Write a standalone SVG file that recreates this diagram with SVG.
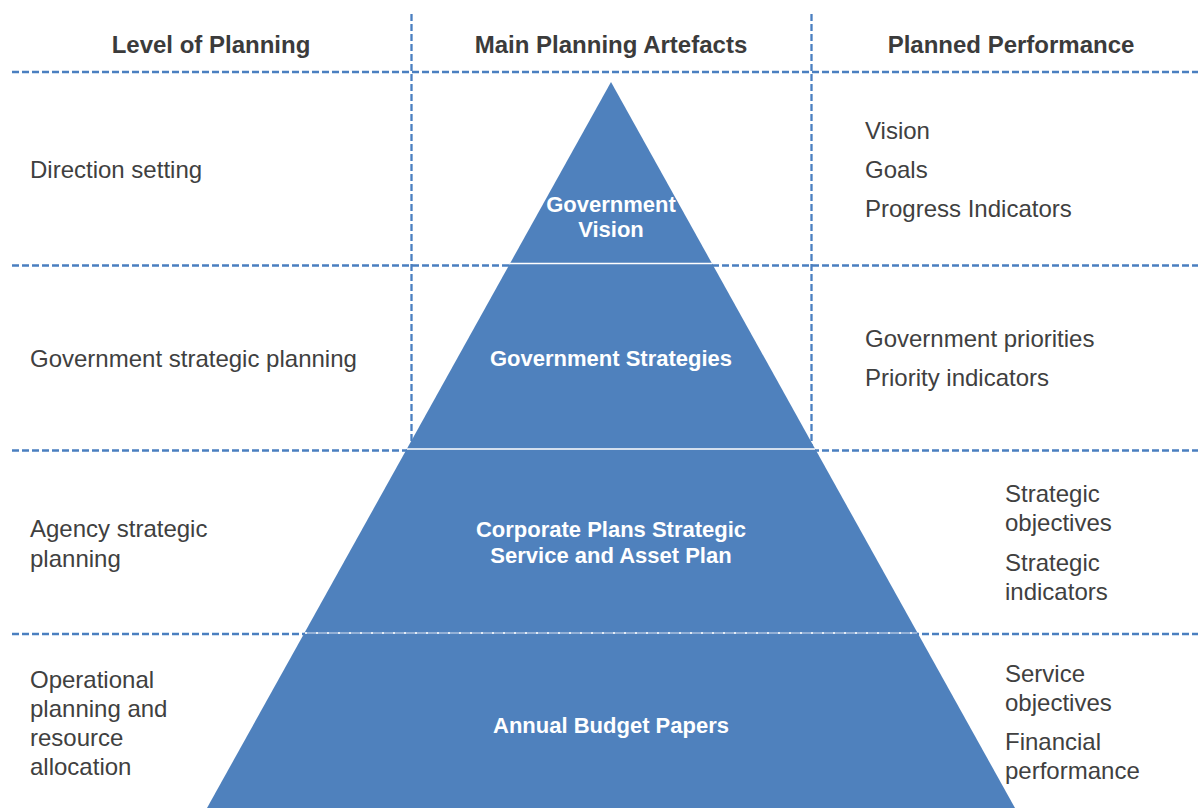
<svg xmlns="http://www.w3.org/2000/svg" width="1198" height="810" viewBox="0 0 1198 810">
  <style>
    .grid { stroke: #4a7fc0; stroke-width: 2.3; stroke-dasharray: 7 3; fill: none; }
    .hdr { font-family: "Liberation Sans", Arial, sans-serif; font-size: 24px; font-weight: bold; fill: #3b3b3b; text-anchor: middle; }
    .txt { font-family: "Liberation Sans", Arial, sans-serif; font-size: 24px; fill: #404040; }
    .lvl { fill: #4f81bd; }
    .lbl { font-family: "Liberation Sans", Arial, sans-serif; font-size: 22px; font-weight: bold; fill: #ffffff; text-anchor: middle; }
    .sep { stroke: #ffffff; stroke-width: 1.6; }
  </style>
  <rect width="1198" height="810" fill="#ffffff"/>

  <g id="headers">
    <text class="hdr" x="211" y="53">Level of Planning</text>
    <text class="hdr" x="611" y="53">Main Planning Artefacts</text>
    <text class="hdr" x="1011" y="53">Planned Performance</text>
  </g>

  <g id="grid-lines">
    <line class="grid" x1="12" y1="72" x2="1198" y2="72"/>
    <line class="grid" x1="12" y1="265.5" x2="1198" y2="265.5"/>
    <line class="grid" x1="12" y1="450.5" x2="1198" y2="450.5"/>
    <line class="grid" x1="12" y1="634" x2="1198" y2="634"/>
    <line class="grid" x1="411.5" y1="14" x2="411.5" y2="450"/>
    <line class="grid" x1="811.5" y1="14" x2="811.5" y2="450"/>
  </g>

  <g id="level-vision">
    <polygon class="lvl" points="611,82 712.3,264 509.7,264"/>
    <text class="lbl" x="611" y="212">Government</text>
    <text class="lbl" x="611" y="237">Vision</text>
  </g>
  <g id="level-strategies">
    <polygon class="lvl" points="509.7,264 712.3,264 815.2,449 406.8,449"/>
    <text class="lbl" x="611" y="366">Government Strategies</text>
  </g>
  <g id="level-corporate">
    <polygon class="lvl" points="406.8,449 815.2,449 917.6,633 304.4,633"/>
    <text class="lbl" x="611" y="537">Corporate Plans Strategic</text>
    <text class="lbl" x="611" y="563">Service and Asset Plan</text>
  </g>
  <g id="level-budget">
    <polygon class="lvl" points="304.4,633 917.6,633 1015,808 207,808"/>
    <text class="lbl" x="611" y="733">Annual Budget Papers</text>
  </g>
  <g id="pyramid-separators">
    <line class="sep" x1="510" y1="263.5" x2="712" y2="263.5"/>
    <line class="sep" x1="407" y1="449" x2="815" y2="449"/>
    <line x1="305" y1="633" x2="917" y2="633" stroke="#a9c0e0" stroke-width="1.6"/>
    <line x1="305" y1="633" x2="917" y2="633" stroke="#ffffff" stroke-width="1.6" stroke-dasharray="2 9"/>
  </g>

  <g id="levels-of-planning">
    <text class="txt" x="30" y="178">Direction setting</text>
    <text class="txt" x="30" y="367">Government strategic planning</text>
    <text class="txt" x="30" y="537">Agency strategic</text>
    <text class="txt" x="30" y="567">planning</text>
    <text class="txt" x="30" y="688">Operational</text>
    <text class="txt" x="30" y="717">planning and</text>
    <text class="txt" x="30" y="746">resource</text>
    <text class="txt" x="30" y="775">allocation</text>
  </g>

  <g id="planned-performance">
    <text class="txt" x="865" y="139">Vision</text>
    <text class="txt" x="865" y="178">Goals</text>
    <text class="txt" x="865" y="217">Progress Indicators</text>
    <text class="txt" x="865" y="347">Government priorities</text>
    <text class="txt" x="865" y="386">Priority indicators</text>
    <text class="txt" x="1005" y="502">Strategic</text>
    <text class="txt" x="1005" y="531">objectives</text>
    <text class="txt" x="1005" y="571">Strategic</text>
    <text class="txt" x="1005" y="600">indicators</text>
    <text class="txt" x="1005" y="682">Service</text>
    <text class="txt" x="1005" y="711">objectives</text>
    <text class="txt" x="1005" y="750">Financial</text>
    <text class="txt" x="1005" y="779">performance</text>
  </g>
</svg>
